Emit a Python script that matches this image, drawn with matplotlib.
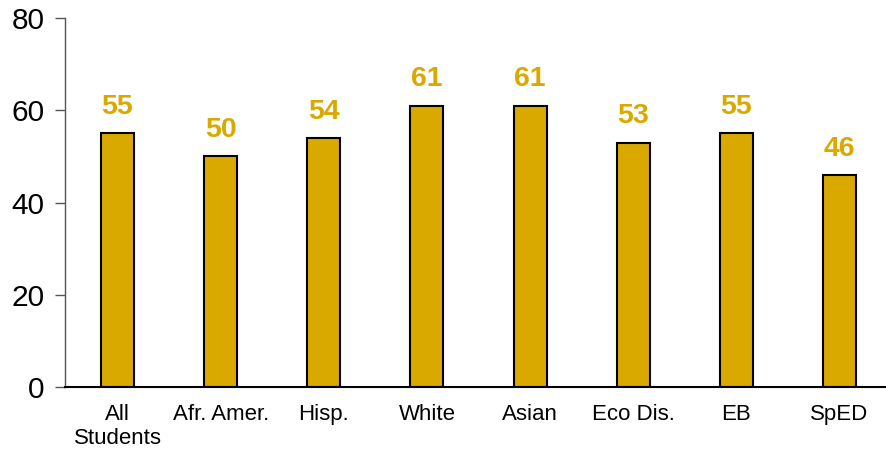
import matplotlib.pyplot as plt

plt.rcParams['font.family'] = ['Liberation Sans', 'DejaVu Sans']

groups = ['All\nStudents', 'Afr. Amer.', 'Hisp.', 'White', 'Asian', 'Eco Dis.', 'EB', 'SpED']
scores = [55, 50, 54, 61, 61, 53, 55, 46]

gold = '#DAA900'

fig = plt.figure(figsize=(8.86, 4.49), dpi=100)
ax = fig.add_axes([65 / 886, 62 / 449, 821 / 886, 369 / 449])

x = range(len(groups))
bars = ax.bar(x, scores, width=0.32, color=gold, edgecolor='black', linewidth=1.5)

for xi, v in zip(x, scores):
    ax.annotate(str(v), (xi, v), xytext=(0, 9.5), textcoords='offset points',
                ha='center', va='bottom', fontsize=20.5, fontweight='bold', color=gold)

ax.set_ylim(0, 80)
ax.set_xlim(-0.509, 7.451)
ax.set_yticks([0, 20, 40, 60, 80])
ax.set_xticks(list(x))
ax.set_xticklabels(groups, fontsize=16, linespacing=1.15)
ax.tick_params(axis='y', labelsize=21.5, length=7, width=1, color='#555555', pad=7.5)
ax.tick_params(axis='x', length=0, pad=12.5)

ax.spines['top'].set_visible(False)
ax.spines['right'].set_visible(False)
ax.spines['left'].set_color('#555555')
ax.spines['left'].set_linewidth(1)
ax.spines['bottom'].set_linewidth(1.5)

fig.savefig('out.png', dpi=100)
